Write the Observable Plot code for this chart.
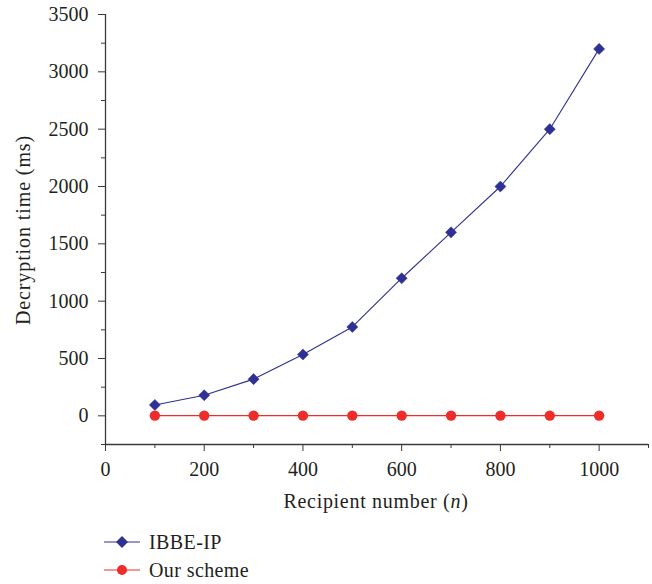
<!DOCTYPE html>
<html>
<head>
<meta charset="utf-8">
<script src="https://cdn.jsdelivr.net/npm/d3@7"></script>
<script src="https://cdn.jsdelivr.net/npm/@observablehq/plot@0.6"></script>
<style>
  body { margin: 0; background: #fff; }
  #chart { width: 652px; font-family: "Liberation Serif", "DejaVu Serif", serif; color: #231f20; }
  .legend { margin-left: 104px; margin-top: 8px; }
  .legend .row { display: flex; align-items: center; height: 28px; font-size: 20px; letter-spacing: 0.4px; }
  .legend svg { margin-right: 9px; }
</style>
</head>
<body>
<div id="chart"></div>
<script>
const recipients = [100, 200, 300, 400, 500, 600, 700, 800, 900, 1000];
const ibbeIP = [95, 180, 320, 535, 775, 1200, 1600, 2000, 2500, 3200];
const ourScheme = [2, 2, 2, 2, 2, 2, 2, 2, 2, 2];
const seriesNames = ["IBBE-IP", "Our scheme"];
const seriesColors = ["#2e3192", "#ee2d2a"];
const xMajor = [0, 200, 400, 600, 800, 1000];
const xMinor = [100, 300, 500, 700, 900, 1100];
const yMajor = [0, 500, 1000, 1500, 2000, 2500, 3000, 3500];
const yMinor = [-250, 250, 750, 1250, 1750, 2250, 2750, 3250];

const rows = [];
recipients.forEach((n, i) => {
  rows.push({n, t: ibbeIP[i], s: seriesNames[0]});
  rows.push({n, t: ourScheme[i], s: seriesNames[1]});
});
const A = rows.filter(d => d.s === seriesNames[0]);
const B = rows.filter(d => d.s === seriesNames[1]);
const axisColor = "#3a3a3a";

const plot = Plot.plot({
  width: 652,
  height: 520,
  marginLeft: 105,
  marginRight: 4,
  marginTop: 14,
  marginBottom: 76,
  style: {fontFamily: "Liberation Serif, DejaVu Serif, serif", fontSize: "20px", color: "#231f20", background: "#fff"},
  x: {domain: [0, 1100]},
  y: {domain: [-250, 3500]},
  marks: [
    Plot.axisY({ticks: yMajor, tickSize: 7, tickPadding: 10, tickFormat: d => String(d), label: null, stroke: axisColor, fontSize: 20}),
    Plot.axisY({ticks: yMinor, tickSize: 4, tickFormat: () => "", label: null, stroke: axisColor}),
    Plot.axisX({ticks: xMajor, tickSize: 7, tickPadding: 10, tickFormat: d => String(d), label: null, stroke: axisColor, fontSize: 20}),
    Plot.axisX({ticks: xMinor, tickSize: 4, tickFormat: () => "", label: null, stroke: axisColor}),
    Plot.ruleX([0], {stroke: axisColor, strokeWidth: 1.3}),
    Plot.ruleY([-250], {stroke: axisColor, strokeWidth: 1.3}),
    Plot.line(A, {x: "n", y: "t", stroke: seriesColors[0], strokeWidth: 1.1}),
    Plot.dot(A, {x: "n", y: "t", symbol: "diamond2", r: 5, fill: seriesColors[0], stroke: seriesColors[0], strokeWidth: 0.5}),
    Plot.line(B, {x: "n", y: "t", stroke: seriesColors[1], strokeWidth: 1.1}),
    Plot.dot(B, {x: "n", y: "t", r: 5.2, fill: seriesColors[1]})
  ]
});

const svg = d3.select(plot);
svg.append("text")
  .attr("transform", "translate(25,230) rotate(-90)")
  .attr("text-anchor", "middle")
  .attr("dominant-baseline", "middle")
  .attr("fill", "#231f20")
  .style("font-size", "20px")
  .style("letter-spacing", "0.9px")
  .text("Decryption time (ms)");
const xt = svg.append("text")
  .attr("x", 376).attr("y", 508)
  .attr("text-anchor", "middle")
  .attr("fill", "#231f20")
  .style("font-size", "20px")
  .style("letter-spacing", "0.7px");
xt.append("tspan").text("Recipient number (");
xt.append("tspan").attr("font-style", "italic").text("n");
xt.append("tspan").text(")");

document.getElementById("chart").appendChild(plot);

const legend = d3.select("#chart").append("div").attr("class", "legend");
seriesNames.forEach((name, i) => {
  const row = legend.append("div").attr("class", "row");
  const s = row.append("svg").attr("width", 36).attr("height", 14);
  s.append("line").attr("x1", 0).attr("x2", 36).attr("y1", 7).attr("y2", 7)
    .attr("stroke", seriesColors[i]).attr("stroke-width", 1.2);
  if (i === 0) {
    s.append("path").attr("d", "M18,1 L24,7 L18,13 L12,7 Z").attr("fill", seriesColors[i]);
  } else {
    s.append("circle").attr("cx", 18).attr("cy", 7).attr("r", 5).attr("fill", seriesColors[i]);
  }
  row.append("span").text(name);
});
</script>
</body>
</html>
